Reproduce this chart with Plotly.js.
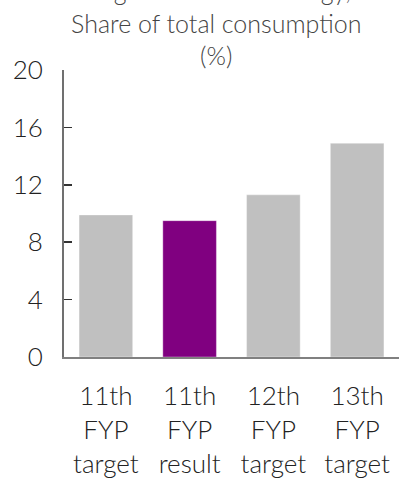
<!DOCTYPE html>
<html>
<head>
<meta charset="utf-8">
<script src="https://cdn.plot.ly/plotly-3.0.1.min.js"></script>
<style>html,body{margin:0;padding:0;background:#fff;}#chart{width:399px;height:479px;}</style>
</head>
<body>
<div id="chart"></div>
<script>
var categories = ["11th<br>FYP<br>target", "11th<br>FYP<br>result", "12th<br>FYP<br>target", "13th<br>FYP<br>target"];
var shareValues = [9.9, 9.5, 11.3, 14.9];
var barColors = ["#c0c0c0", "#800080", "#c0c0c0", "#c0c0c0"];
var yTickValues = [0, 4, 8, 12, 16, 20];
var titleLines = ["Target: non-fossil energy,", "Share of total consumption", "(%)"];

var FONT = "Lato, 'Open Sans', sans-serif";

Plotly.newPlot("chart", [{
  type: "bar",
  x: categories,
  y: shareValues,
  marker: {color: barColors, line: {color: "rgba(255,255,255,0.35)", width: 1}},
  hoverinfo: "skip"
}], {
  width: 399,
  height: 479,
  margin: {l: 64, r: 0, t: 70, b: 122},
  paper_bgcolor: "#fff",
  plot_bgcolor: "#fff",
  bargap: 0.36,
  showlegend: false,
  font: {family: FONT, color: "#222", weight: 300},
  title: {
    text: titleLines.join("<br>"),
    font: {family: FONT, size: 25, color: "#444", weight: 300},
    x: 0.542, xref: "container", xanchor: "center",
    y: 0.999, yref: "container", yanchor: "bottom"
  },
  xaxis: {
    type: "category",
    range: [-0.5, 3.5],
    showline: true, linecolor: "#808080", linewidth: 2,
    ticks: "", showgrid: false, zeroline: false,
    tickfont: {family: FONT, size: 26, color: "#222", weight: 300},
    ticklabelstandoff: 15
  },
  yaxis: {
    range: [0, 20],
    tickvals: yTickValues,
    ticktext: yTickValues.map(String),
    showline: true, linecolor: "#707070", linewidth: 2,
    ticks: "inside", ticklen: 8, tickwidth: 1.5, tickcolor: "#333",
    showgrid: false, zeroline: false,
    tickfont: {family: FONT, size: 26, color: "#222", weight: 300},
    ticklabelstandoff: 14
  }
}, {displayModeBar: false, staticPlot: true});
</script>
</body>
</html>
